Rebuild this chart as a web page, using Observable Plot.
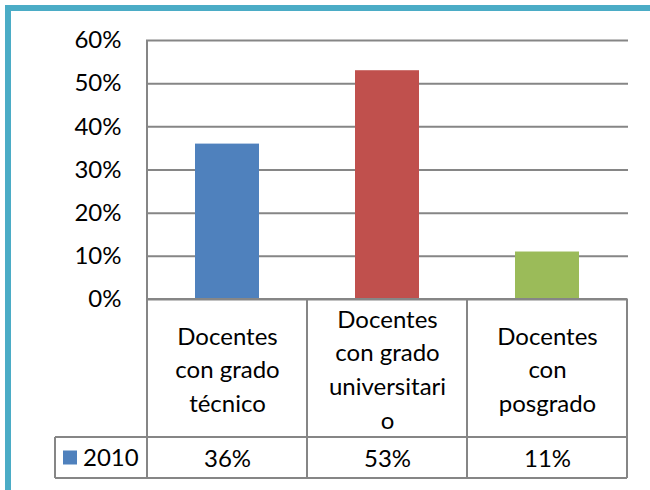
<!DOCTYPE html>
<html>
<head>
<meta charset="utf-8">
<script src="https://cdn.jsdelivr.net/npm/d3@7"></script>
<script src="https://cdn.jsdelivr.net/npm/@observablehq/plot@0.6"></script>
<style>
  html, body { margin: 0; padding: 0; background: #fff; }
  #wrap { position: relative; width: 650px; height: 490px; overflow: hidden; }
  #frame { position: absolute; left: 5px; top: 5px; width: 700px; height: 600px;
           border-left: 6px solid #4bacc6; border-top: 6px solid #4bacc6; box-sizing: border-box; }
  #chart { position: absolute; left: 0; top: 0; }
</style>
</head>
<body>
<div id="wrap"><div id="frame"></div><div id="chart"></div></div>
<script>
const categories = ["Docentes\ncon grado\ntécnico", "Docentes\ncon grado\nuniversitari\no", "Docentes\ncon\nposgrado"];
const values = [0.36, 0.53, 0.11];
const valueLabels = ["36%", "53%", "11%"];
const colors = ["#4f81bd", "#c0504d", "#9bbb59"];
const seriesName = "2010";
const yTicks = [0, 0.1, 0.2, 0.3, 0.4, 0.5, 0.6];

const data = categories.map((c, i) => ({cat: c, value: values[i], label: valueLabels[i], color: colors[i]}));

const FONT = "Lato, 'Open Sans', sans-serif";
const FS = 24;
const gray = "#868686";

const plot = Plot.plot({
  width: 650,
  height: 490,
  marginLeft: 146,
  marginRight: 22,
  marginTop: 40,
  marginBottom: 191,
  style: {fontFamily: FONT, background: "transparent", color: "#000"},
  x: {domain: categories, paddingInner: 0.6, paddingOuter: 0.3, axis: null},
  y: {domain: [0, 0.6], ticks: yTicks, axis: null},
  marks: [
    Plot.gridY(yTicks, {stroke: gray, strokeOpacity: 1, strokeWidth: 2}),
    Plot.axisY(yTicks, {tickSize: 0, tickPadding: 25, fontSize: FS, tickFormat: d3.format(".0%"), label: null, fill: "#000"}),
    Plot.barY(data, {x: "cat", y: "value", fill: "color"}),
    Plot.text(data, {x: "cat", y: () => 0, text: "cat", dy: 68, fontSize: FS, lineHeight: 1.4, lineAnchor: "middle", fill: "#000"}),
    Plot.text(data, {x: "cat", y: () => 0, text: "label", dy: 160, fontSize: FS, lineAnchor: "middle", fill: "#000"})
  ]
});

// Data table frame and legend cell, positioned from the plot's own scales
const xs = plot.scale("x");
const ys = plot.scale("y");
const step = xs.step;
const centers = categories.map(c => xs.apply(c) + xs.bandwidth / 2);
const left = centers[0] - step / 2;
const right = centers[centers.length - 1] + step / 2;
const y0 = ys.apply(0);
const yTop = ys.apply(0.6);
const rowCat = y0 + 138;
const rowVal = rowCat + 41;
const legLeft = 55;

const svg = d3.select(plot);
const g = svg.append("g").attr("stroke", gray).attr("stroke-width", 2).attr("fill", "none");
const line = (x1, y1, x2, y2) => g.append("line").attr("x1", x1).attr("y1", y1).attr("x2", x2).attr("y2", y2);
line(left, yTop, left, rowVal);
line(left, y0, right, y0);
line(legLeft, rowCat, right, rowCat);
line(legLeft, rowVal, right, rowVal);
line(legLeft, rowCat, legLeft, rowVal);
centers.forEach(c => line(c + step / 2, y0, c + step / 2, rowVal));

const midRow = (rowCat + rowVal) / 2;
svg.append("rect").attr("x", 63).attr("y", midRow - 7).attr("width", 14).attr("height", 14).attr("fill", colors[0]);
svg.append("text").attr("x", 83).attr("y", midRow).attr("dy", "0.35em").attr("text-anchor", "start")
  .attr("font-size", FS).attr("font-family", FONT).attr("fill", "#000").text(seriesName);

document.getElementById("chart").appendChild(plot);
</script>
</body>
</html>
